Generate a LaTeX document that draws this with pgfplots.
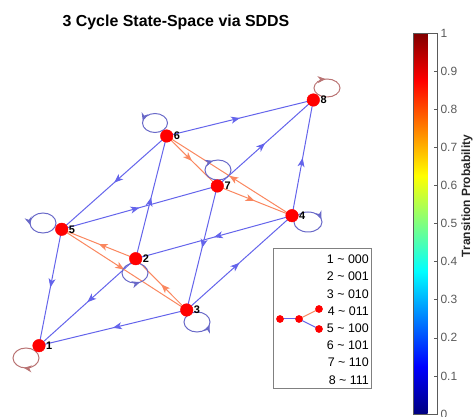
\documentclass[border=0pt]{standalone}
\usepackage{pgfplots}
\usepackage{pgfplotstable}
\pgfplotsset{compat=1.18}
\usepackage{fontspec}
\setmainfont{Liberation Sans}
\usetikzlibrary{arrows.meta,decorations.markings}
\definecolor{eb}{RGB}{100,100,235}
\definecolor{eo}{RGB}{250,135,95}
\definecolor{lb}{RGB}{105,105,200}
\definecolor{lr}{RGB}{185,115,115}
\definecolor{lab}{RGB}{38,38,38}
\definecolor{tk}{RGB}{90,90,90}
\tikzset{
  midarrow/.style={postaction={decorate}, decoration={markings, mark=at position 0.5 with {\arrow{Stealth[length=9bp,width=7bp,inset=2.5bp]}}}},
  looparr/.style={postaction={decorate}, decoration={markings, mark=at position #1 with {\arrow{Stealth[length=8bp,width=7bp,inset=2.5bp]}}}},
  looparrr/.style={postaction={decorate}, decoration={markings, mark=at position #1 with {\arrowreversed{Stealth[length=8bp,width=7bp,inset=2.5bp]}}}},
  legtxt/.style={anchor=east, inner sep=0pt, font=\fontsize{12.5}{15}\selectfont, text=black},
}
\pgfplotstableread{
x y label
39 71.3 1
135.7 158.3 2
186.7 107 3
292 201.3 4
61.7 187.7 5
166.7 281 6
217.3 231 7
313.3 317 8
}\nodetab
\pgfplotstableread{
x y
280 98
299 98
319 108
319 88
}\icontab
\begin{document}
\begin{tikzpicture}
\useasboundingbox (0,0) rectangle (473bp,417bp);
\begin{axis}[at={(0,0)}, anchor=south west, scale only axis, width=473bp, height=417bp,
  xmin=0, xmax=473, ymin=0, ymax=417, hide axis, clip=false,
  colormap/jet, point meta min=0, point meta max=1, colorbar,
  colorbar style={
    at={(405bp,3bp)}, anchor=south west, scale only axis, width=23.5bp, height=381bp,
    ytick={0,0.1,0.2,0.3,0.4,0.5,0.6,0.7,0.8,0.9,1},
    ytick pos=right, yticklabel pos=right, tick align=inside, major tick length=3bp,
    axis line style={draw=tk, line width=0.5bp}, tick style={draw=tk, line width=0.5bp},
    yticklabel style={font=\fontsize{12}{14}\selectfont, text=tk},
    /pgf/number format/assume math mode=true,
  }]
% blue edges
\addplot[eb, line width=1bp, midarrow] coordinates {(135.7,158.3) (39,71.3)};
\addplot[eb, line width=1bp, midarrow] coordinates {(135.7,158.3) (166.7,281)};
\addplot[eb, line width=1bp, midarrow] coordinates {(186.7,107) (39,71.3)};
\addplot[eb, line width=1bp, midarrow] coordinates {(186.7,107) (292,201.3)};
\addplot[eb, line width=1bp, midarrow] coordinates {(292,201.3) (135.7,158.3)};
\addplot[eb, line width=1bp, midarrow] coordinates {(292,201.3) (313.3,317)};
\addplot[eb, line width=1bp, midarrow] coordinates {(61.7,187.7) (39,71.3)};
\addplot[eb, line width=1bp, midarrow] coordinates {(61.7,187.7) (217.3,231)};
\addplot[eb, line width=1bp, midarrow] coordinates {(166.7,281) (61.7,187.7)};
\addplot[eb, line width=1bp, midarrow] coordinates {(166.7,281) (313.3,317)};
\addplot[eb, line width=1bp, midarrow] coordinates {(217.3,231) (186.7,107)};
\addplot[eb, line width=1bp, midarrow] coordinates {(217.3,231) (313.3,317)};
% orange edges
\addplot[eo, line width=1bp, midarrow] coordinates {(135.7,158.3) (61.7,187.7)};
\addplot[eo, line width=1bp, midarrow] coordinates {(186.7,107) (135.7,158.3)};
\addplot[eo, line width=1bp, midarrow] coordinates {(292,201.3) (166.7,281)};
\addplot[eo, line width=1bp, midarrow] coordinates {(61.7,187.7) (186.7,107)};
\addplot[eo, line width=1bp, midarrow] coordinates {(166.7,281) (217.3,231)};
\addplot[eo, line width=1bp, midarrow] coordinates {(217.3,231) (292,201.3)};
% self loops
\draw[lr, line width=1bp, looparrr=0.72] (axis cs:26,59) ellipse [x radius=13, y radius=10];
\draw[lr, line width=1bp, looparrr=0.27] (axis cs:327,329) ellipse [x radius=13, y radius=9];
\draw[lb, line width=1bp, looparr=0.47] (axis cs:155,294) ellipse [x radius=12.5, y radius=9.5];
\draw[lb, line width=1bp, looparr=0.53] (axis cs:43,194) ellipse [x radius=13, y radius=10];
\draw[lb, line width=1bp, looparr=0.82] (axis cs:135,144) ellipse [x radius=13, y radius=10];
\draw[lb, line width=1bp, looparr=0.96] (axis cs:197,95) ellipse [x radius=13, y radius=10];
\draw[lb, line width=1bp, looparrr=0.32] (axis cs:218,247) ellipse [x radius=13, y radius=10];
\draw[lb, line width=1bp, looparrr=0.04] (axis cs:308,195) ellipse [x radius=14, y radius=10];
% nodes
\addplot[only marks, mark=*, mark size=6.3bp, mark options={draw=red, fill=red},
  nodes near coords, point meta=explicit symbolic,
  every node near coord/.style={anchor=west, inner sep=0pt, xshift=7bp, font=\bfseries\fontsize{11}{13}\selectfont, text=black}]
  table[x=x, y=y, meta=label] {\nodetab};
% title
\node[anchor=base, font=\bfseries\fontsize{16}{19}\selectfont, text=black] at (axis cs:176,390) {3 Cycle State-Space via SDDS};
% colorbar label
\node[rotate=90, anchor=center, inner sep=0pt, font=\bfseries\fontsize{12}{14}\selectfont, text=lab] at (axis cs:467,221) {Transition Probability};
% legend box
\draw[draw=gray, line width=0.6bp, fill=white] (axis cs:273.5,28.7) rectangle (axis cs:371.7,168.7);
\addplot[eb, line width=1bp] coordinates {(280,98) (299,98)};
\addplot[eo, line width=1bp] coordinates {(299,98) (319,108)};
\addplot[eb, line width=1bp] coordinates {(299,98) (319,88)};
\addplot[only marks, mark=*, mark size=3.6bp, mark options={draw=red, fill=red}] table[x=x, y=y] {\icontab};
\node[legtxt] at (axis cs:369,157.7) {1 \textasciitilde{} 000};
\node[legtxt] at (axis cs:369,140.5) {2 \textasciitilde{} 001};
\node[legtxt] at (axis cs:369,123.2) {3 \textasciitilde{} 010};
\node[legtxt] at (axis cs:369,106.0) {4 \textasciitilde{} 011};
\node[legtxt] at (axis cs:369,88.7) {5 \textasciitilde{} 100};
\node[legtxt] at (axis cs:369,71.5) {6 \textasciitilde{} 101};
\node[legtxt] at (axis cs:369,54.3) {7 \textasciitilde{} 110};
\node[legtxt] at (axis cs:369,37.0) {8 \textasciitilde{} 111};
\end{axis}
\end{tikzpicture}
\end{document}
